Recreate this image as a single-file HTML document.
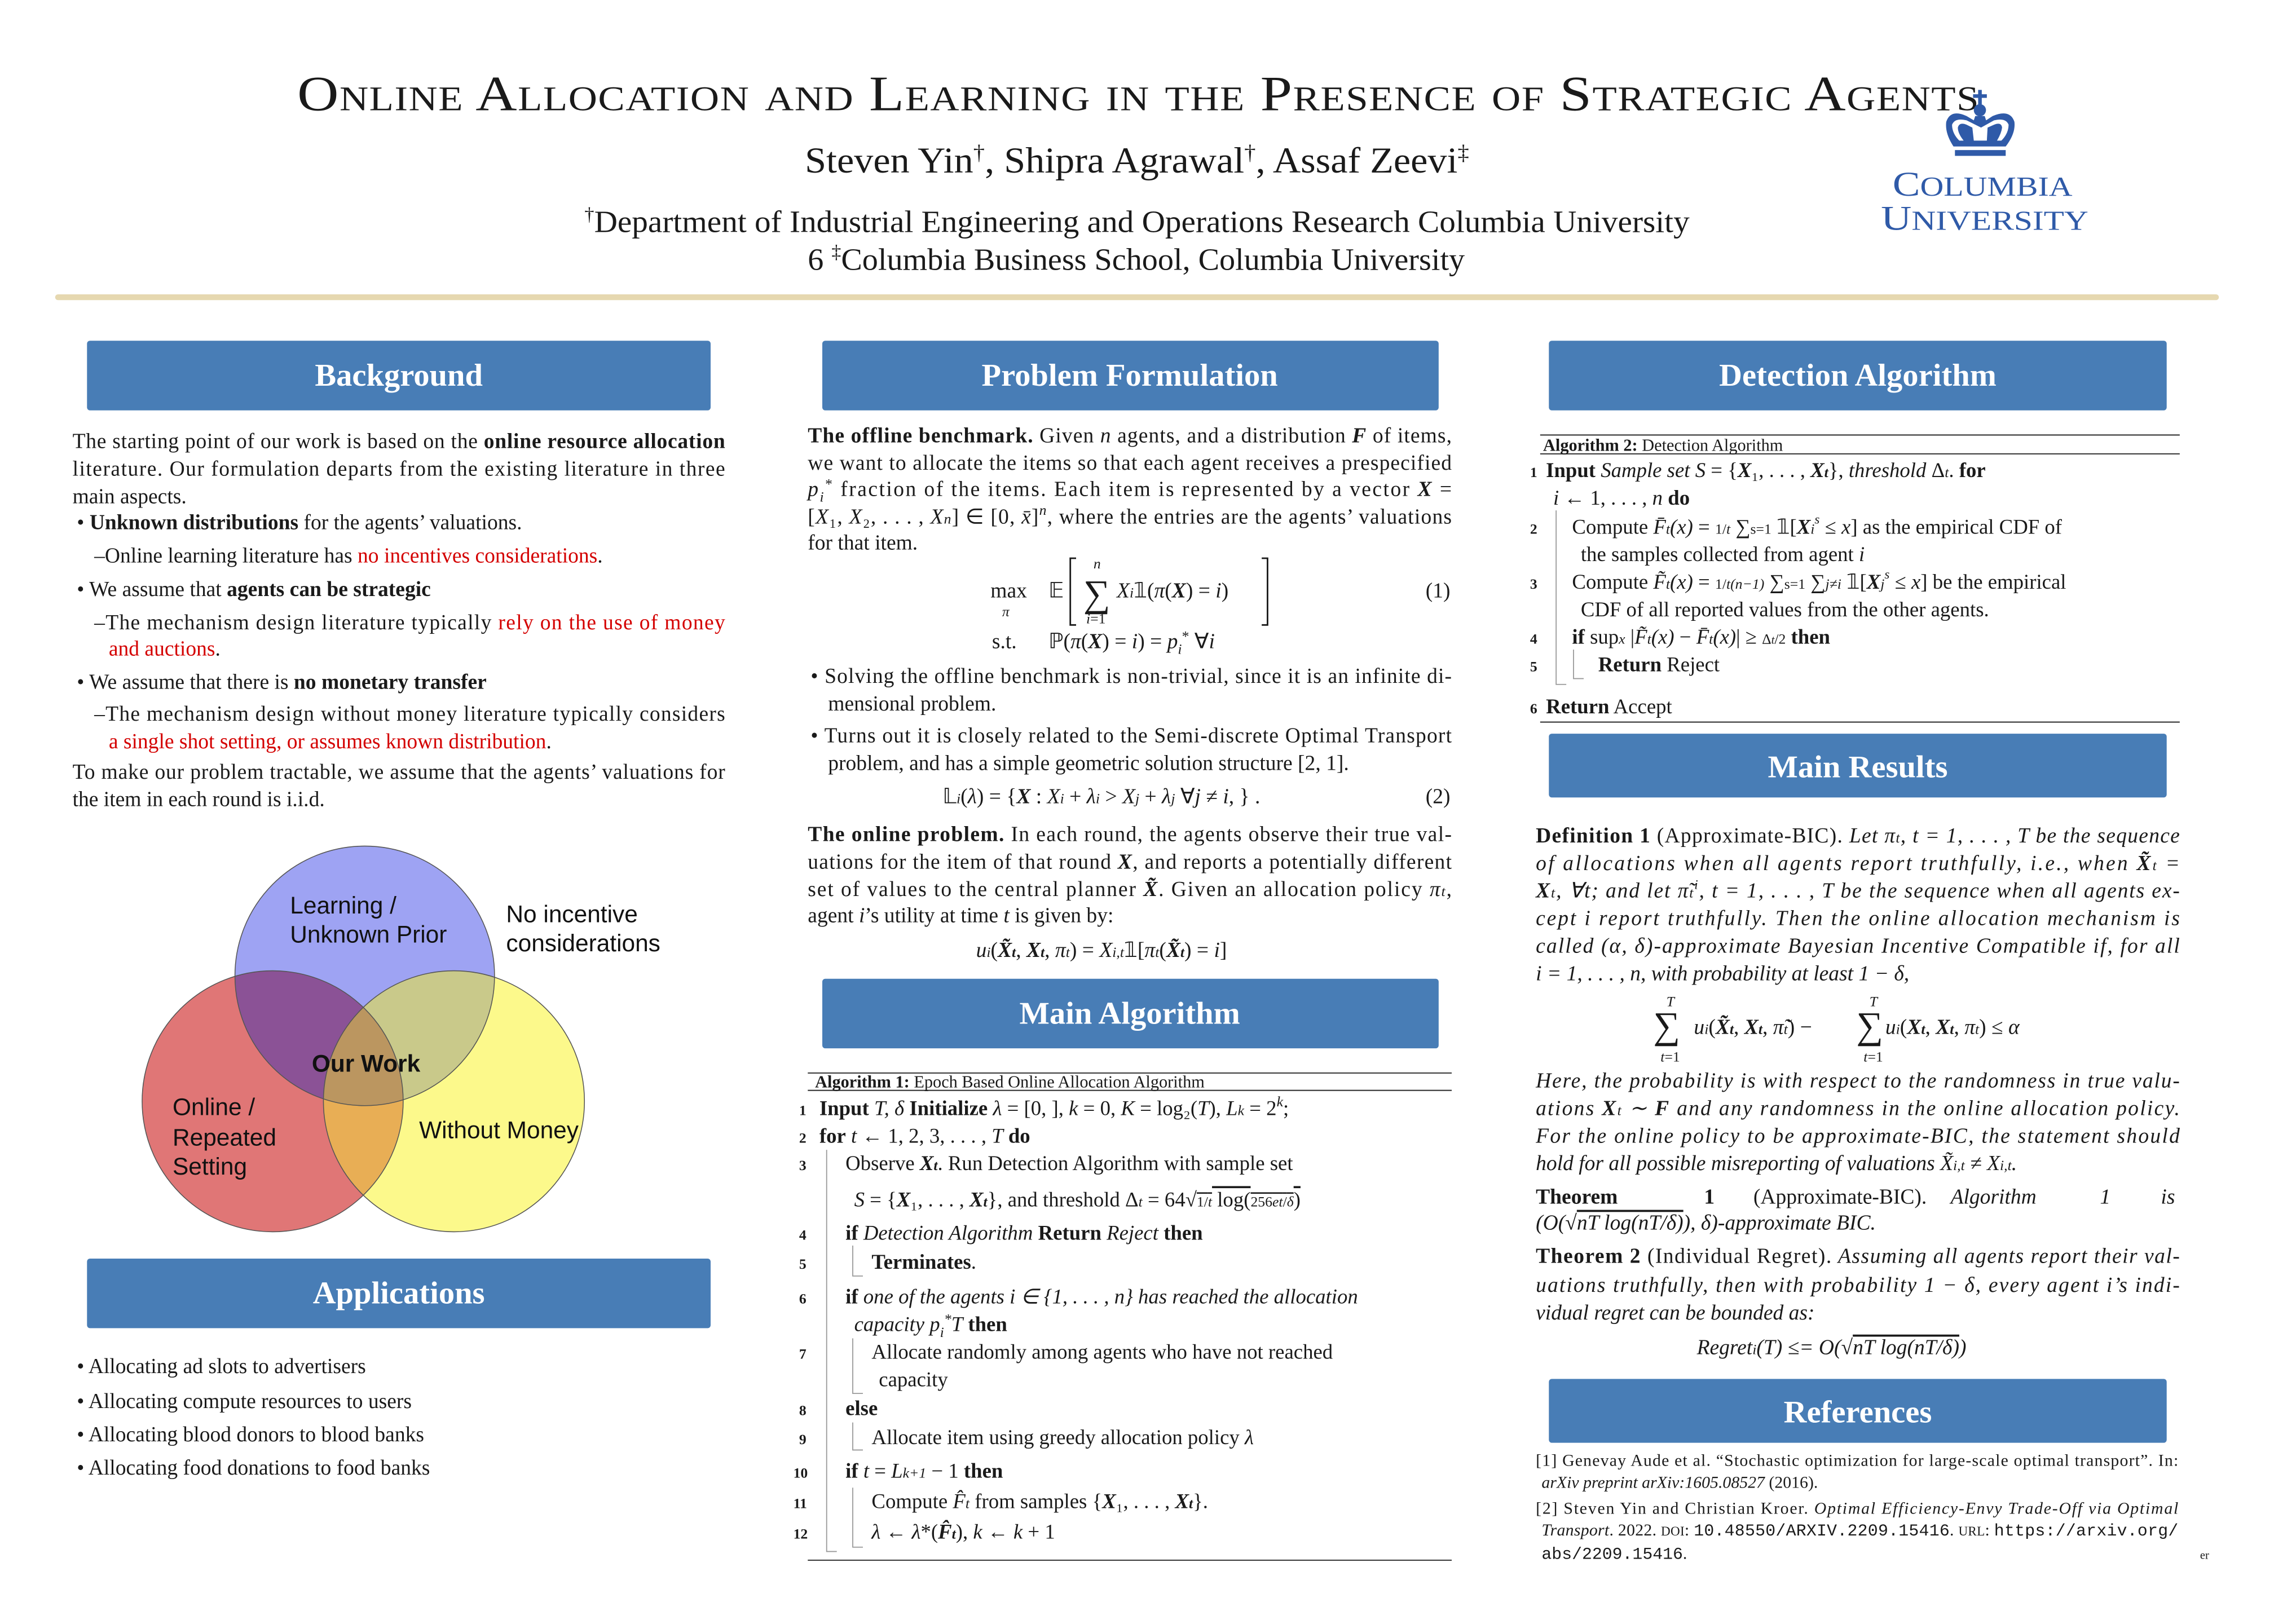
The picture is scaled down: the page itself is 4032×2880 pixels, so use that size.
<!DOCTYPE html>
<html><head><meta charset="utf-8"><style>
html,body{margin:0;padding:0;background:#fff;width:4032px;height:2880px;overflow:hidden}
svg{display:block}
text{font-family:"Liberation Serif",serif;fill:#1a1a1a}
.t{font-size:14.6px}
.b{font-weight:bold}
.i{font-style:italic}
.r{fill:#d40000}
.h{font-size:22px;fill:#fff;text-anchor:middle;font-weight:bold}
.s{font-family:"Liberation Sans",sans-serif;font-size:16.5px;fill:#111}
.n{font-size:10px;font-weight:bold}
.a{font-size:14.3px}
.ref{font-size:11.6px}
.m{font-family:"Liberation Mono",monospace}
</style></head><body>
<svg width="4032" height="2880" viewBox="0 0 1568 1120" xmlns="http://www.w3.org/2000/svg">
<defs>
<clipPath id="cR"><circle cx="188" cy="759.5" r="90"/></clipPath>
<clipPath id="cY"><circle cx="313" cy="759.5" r="90"/></clipPath>
<clipPath id="cB"><circle cx="251.5" cy="673" r="89.5"/></clipPath>
</defs>
<!-- Title -->
<text x="205" y="76" textLength="1160" lengthAdjust="spacingAndGlyphs" style="font-size:34px;font-variant:small-caps;letter-spacing:0.5px">Online Allocation and Learning in the Presence of Strategic Agents</text>
<text x="555" y="119" textLength="458" lengthAdjust="spacingAndGlyphs" style="font-size:25px">Steven Yin<tspan dy="-9" style="font-size:15px">†</tspan><tspan dy="9">, Shipra Agrawal</tspan><tspan dy="-9" style="font-size:15px">†</tspan><tspan dy="9">, Assaf Zeevi</tspan><tspan dy="-9" style="font-size:15px">‡</tspan></text>
<text x="403" y="160" textLength="762" lengthAdjust="spacingAndGlyphs" style="font-size:21.5px"><tspan dy="-8" style="font-size:13px">†</tspan><tspan dy="8">Department of Industrial Engineering and Operations Research Columbia University</tspan></text>
<text x="557" y="186" textLength="453" lengthAdjust="spacingAndGlyphs" style="font-size:21.5px">6 <tspan dy="-8" style="font-size:13px">‡</tspan><tspan dy="8">Columbia Business School, Columbia University</tspan></text>
<!-- Columbia logo -->
<g fill="#2f5aa8">
<rect x="1364" y="62" width="2.5" height="10"/><rect x="1360.5" y="65" width="9.5" height="2.5"/>
<circle cx="1365.2" cy="76" r="4.2"/>
<path d="M1342 84 Q1345 75 1356 80 L1361 83 L1362 80 L1368.5 80 L1369.5 83 L1374 80 Q1386 75 1389 84 Q1390 92 1383 101 L1347 101 Q1341 92 1342 84 Z M1346 86 Q1346 92 1351 97 L1354 97 Q1350 92 1350 88 Q1351 84 1356 86 L1360 88 L1361 97 L1370 97 L1370.5 88 L1375 86 Q1380 84 1380.5 88 Q1380 92 1377 97 L1380 97 Q1385 92 1385 86 Q1383 81 1375 83 L1366 88 L1356 83 Q1348 81 1346 86 Z" fill-rule="evenodd"/>
<rect x="1348" y="103.5" width="35" height="4"/>
</g>
<text x="1305" y="135" textLength="124" lengthAdjust="spacingAndGlyphs" style="font-size:24px;fill:#2f5aa8"><tspan>C</tspan><tspan style="font-size:19px">OLUMBIA</tspan></text>
<text x="1297" y="158.5" textLength="143" lengthAdjust="spacingAndGlyphs" style="font-size:24px;fill:#2f5aa8"><tspan>U</tspan><tspan style="font-size:19px">NIVERSITY</tspan></text>
<!-- gold rule -->
<rect x="38" y="203" width="1492" height="4" rx="2" fill="#e6d8b0"/>
<!-- headers -->
<g fill="#487db6">
<rect x="60" y="235" width="430" height="48" rx="2"/>
<rect x="567" y="235" width="425" height="48" rx="2"/>
<rect x="1068" y="235" width="426" height="48" rx="2"/>
<rect x="60" y="868" width="430" height="48" rx="2"/>
<rect x="567" y="675" width="425" height="48" rx="2"/>
<rect x="1068" y="506" width="426" height="44" rx="2"/>
<rect x="1068" y="951" width="426" height="44" rx="2"/>
</g>
<text class="h" x="275" y="266">Background</text>
<text class="h" x="779" y="266">Problem Formulation</text>
<text class="h" x="1281" y="266">Detection Algorithm</text>
<text class="h" x="275" y="899">Applications</text>
<text class="h" x="779" y="706">Main Algorithm</text>
<text class="h" x="1281" y="536">Main Results</text>
<text class="h" x="1281" y="981">References</text>

<!-- Background column -->
<text class="t" x="50" y="309" textLength="450">The starting point of our work is based on the <tspan class="b">online resource allocation</tspan></text>
<text class="t" x="50" y="328" textLength="450">literature.  Our formulation departs from the existing literature in three</text>
<text class="t" x="50" y="347">main aspects.</text>
<text class="t" x="53" y="365">• <tspan class="b">Unknown distributions</tspan> for the agents’ valuations.</text>
<text class="t" x="65" y="388">–Online learning literature has <tspan class="r">no incentives considerations</tspan>.</text>
<text class="t" x="53" y="411">• We assume that <tspan class="b">agents can be strategic</tspan></text>
<text class="t" x="65" y="434" textLength="435">–The mechanism design literature typically <tspan class="r">rely on the use of money</tspan></text>
<text class="t r" x="75" y="452">and auctions<tspan style="fill:#1a1a1a">.</tspan></text>
<text class="t" x="53" y="475">• We assume that there is <tspan class="b">no monetary transfer</tspan></text>
<text class="t" x="65" y="497" textLength="435">–The mechanism design without money literature typically considers</text>
<text class="t r" x="75" y="516">a single shot setting, or assumes known distribution<tspan style="fill:#1a1a1a">.</tspan></text>
<text class="t" x="50" y="537" textLength="450">To make our problem tractable, we assume that the agents’ valuations for</text>
<text class="t" x="50" y="556">the item in each round is i.i.d.</text>

<!-- Venn -->
<circle cx="188" cy="759.5" r="90" fill="#e07676"/>
<circle cx="313" cy="759.5" r="90" fill="#fcf98b"/>
<circle cx="251.5" cy="673" r="89.5" fill="#9ea3f3"/>
<g clip-path="url(#cR)"><circle cx="313" cy="759.5" r="90" fill="#e8ae55"/></g>
<g clip-path="url(#cR)"><circle cx="251.5" cy="673" r="89.5" fill="#8b5296"/></g>
<g clip-path="url(#cY)"><circle cx="251.5" cy="673" r="89.5" fill="#c9c98a"/></g>
<g clip-path="url(#cY)"><g clip-path="url(#cR)"><circle cx="251.5" cy="673" r="89.5" fill="#bb9660"/></g></g>
<g fill="none" stroke="#555" stroke-width="0.6">
<circle cx="188" cy="759.5" r="90"/><circle cx="313" cy="759.5" r="90"/><circle cx="251.5" cy="673" r="89.5"/>
</g>
<text class="s" x="200" y="630">Learning /</text>
<text class="s" x="200" y="650">Unknown Prior</text>
<text class="s" x="349" y="636">No incentive</text>
<text class="s" x="349" y="656">considerations</text>
<text class="s" x="215" y="739" style="font-weight:bold">Our Work</text>
<text class="s" x="119" y="769">Online /</text>
<text class="s" x="119" y="790">Repeated</text>
<text class="s" x="119" y="810">Setting</text>
<text class="s" x="289" y="785">Without Money</text>

<!-- Applications -->
<text class="t" x="53" y="947">• Allocating ad slots to advertisers</text>
<text class="t" x="53" y="971">• Allocating compute resources to users</text>
<text class="t" x="53" y="994">• Allocating blood donors to blood banks</text>
<text class="t" x="53" y="1017">• Allocating food donations to food banks</text>

<!-- Problem Formulation -->
<text class="t" x="557" y="305" textLength="444"><tspan class="b">The offline benchmark.</tspan> Given <tspan class="i">n</tspan> agents, and a distribution <tspan class="b i">F</tspan> of items,</text>
<text class="t" x="557" y="324" textLength="444">we want to allocate the items so that each agent receives a prespecified</text>
<text class="t" x="557" y="342" textLength="444"><tspan class="i">p</tspan><tspan class="i" dy="4" style="font-size:10px">i</tspan><tspan dy="-9" style="font-size:10px">*</tspan><tspan dy="5"> fraction of the items.  Each item is represented by a vector </tspan><tspan class="b i">X</tspan> =</text>
<text class="t" x="557" y="361" textLength="444">[<tspan class="i">X</tspan>₁, <tspan class="i">X</tspan>₂, . . . , <tspan class="i">X<tspan style="font-size:10px">n</tspan></tspan>] ∈ [0, <tspan class="i">x̄</tspan>]<tspan class="i" dy="-6" style="font-size:10px">n</tspan><tspan dy="6">, where the entries are the agents’ valuations</tspan></text>
<text class="t" x="557" y="379">for that item.</text>
<!-- eq 1 -->
<text class="t" x="683" y="412">max</text>
<text class="i" x="691" y="425" style="font-size:10px">π</text>
<text class="t" x="723" y="412">𝔼</text>
<path d="M742 385 h-4 v46 h4 M870 385 h4 v46 h-4" fill="none" stroke="#1a1a1a" stroke-width="1.1"/>
<text x="747" y="418" style="font-size:26px">∑</text>
<text class="i" x="754" y="392" style="font-size:10px">n</text>
<text x="749" y="430" style="font-size:10px"><tspan class="i">i</tspan>=1</text>
<text class="t" x="770" y="412"><tspan class="i">X<tspan style="font-size:10px">i</tspan></tspan>𝟙(<tspan class="i">π</tspan>(<tspan class="b i">X</tspan>) = <tspan class="i">i</tspan>)</text>
<text class="t" x="983" y="412">(1)</text>
<text class="t" x="684" y="447">s.t.</text>
<text class="t" x="723" y="447">ℙ(<tspan class="i">π</tspan>(<tspan class="b i">X</tspan>) = <tspan class="i">i</tspan>) = <tspan class="i">p</tspan><tspan class="i" dy="4" style="font-size:10px">i</tspan><tspan dy="-9" style="font-size:10px">*</tspan><tspan dy="5">   ∀</tspan><tspan class="i">i</tspan></text>
<text class="t" x="559" y="471" textLength="442">• Solving the offline benchmark is non-trivial, since it is an infinite di-</text>
<text class="t" x="571" y="490">mensional problem.</text>
<text class="t" x="559" y="512" textLength="442">• Turns out it is closely related to the Semi-discrete Optimal Transport</text>
<text class="t" x="571" y="531">problem, and has a simple geometric solution structure [2, 1].</text>
<text class="t" x="650" y="554">𝕃<tspan class="i" style="font-size:10px">i</tspan>(<tspan class="i">λ</tspan>) = {<tspan class="b i">X</tspan> : <tspan class="i">X<tspan style="font-size:10px">i</tspan></tspan> + <tspan class="i">λ<tspan style="font-size:10px">i</tspan></tspan> &gt; <tspan class="i">X<tspan style="font-size:10px">j</tspan></tspan> + <tspan class="i">λ<tspan style="font-size:10px">j</tspan></tspan> ∀<tspan class="i">j</tspan> ≠ <tspan class="i">i</tspan>, } .</text>
<text class="t" x="983" y="554">(2)</text>
<text class="t" x="557" y="580" textLength="444"><tspan class="b">The online problem.</tspan> In each round, the agents observe their true val-</text>
<text class="t" x="557" y="599" textLength="444">uations for the item of that round <tspan class="b i">X</tspan>, and reports a potentially different</text>
<text class="t" x="557" y="618" textLength="444">set of values to the central planner <tspan class="b i">X̃</tspan>.  Given an allocation policy <tspan class="i">π<tspan style="font-size:10px">t</tspan></tspan>,</text>
<text class="t" x="557" y="636">agent <tspan class="i">i</tspan>’s utility at time <tspan class="i">t</tspan> is given by:</text>
<text class="t" x="673" y="660"><tspan class="i">u<tspan style="font-size:10px">i</tspan></tspan>(<tspan class="b i">X̃<tspan style="font-size:10px">t</tspan></tspan>, <tspan class="b i">X<tspan style="font-size:10px">t</tspan></tspan>, <tspan class="i">π<tspan style="font-size:10px">t</tspan></tspan>) = <tspan class="i">X<tspan style="font-size:10px">i,t</tspan></tspan>𝟙[<tspan class="i">π<tspan style="font-size:10px">t</tspan></tspan>(<tspan class="b i">X̃<tspan style="font-size:10px">t</tspan></tspan>) = <tspan class="i">i</tspan>]</text>

<!-- Algorithm 1 -->
<g stroke="#333" stroke-width="0.8" fill="none">
<line x1="557" y1="740" x2="1001" y2="740"/><line x1="557" y1="752" x2="1001" y2="752"/>
<line x1="557" y1="1076" x2="1001" y2="1076"/>
</g>
<g stroke="#999" stroke-width="0.7" fill="none">
<path d="M570 793 V1070 H577"/>
<path d="M588 859 V880 H595"/>
<path d="M588 923 V961 H595"/>
<path d="M588 981 V1000 H595"/>
<path d="M588 1026 V1067 H595"/>
</g>
<text x="562" y="750" style="font-size:11.8px"><tspan class="b">Algorithm 1:</tspan> Epoch Based Online Allocation Algorithm</text>
<text class="n" x="551" y="769">1</text><text class="a" x="565" y="769"><tspan class="b">Input</tspan> <tspan class="i">T, δ</tspan> <tspan class="b">Initialize</tspan> <tspan class="i">λ</tspan> = [0, ], <tspan class="i">k</tspan> = 0, <tspan class="i">K</tspan> = log₂(<tspan class="i">T</tspan>), <tspan class="i">L<tspan style="font-size:10px">k</tspan></tspan> = 2<tspan class="i" dy="-6" style="font-size:10px">k</tspan><tspan dy="6">;</tspan></text>
<text class="n" x="551" y="788">2</text><text class="a" x="565" y="788"><tspan class="b">for</tspan> <tspan class="i">t</tspan> ← 1, 2, 3, . . . , <tspan class="i">T</tspan> <tspan class="b">do</tspan></text>
<text class="n" x="551" y="807">3</text><text class="a" x="583" y="807">Observe <tspan class="b i">X<tspan style="font-size:10px">t</tspan></tspan>. Run Detection Algorithm with sample set</text>
<text class="a" x="589" y="832"><tspan class="i">S</tspan> = {<tspan class="b i">X</tspan>₁, . . . , <tspan class="b i">X<tspan style="font-size:10px">t</tspan></tspan>}, and threshold Δ<tspan class="i" style="font-size:10px">t</tspan> = 64√<tspan style="text-decoration:overline"><tspan style="font-size:10px">1/</tspan><tspan class="i" style="font-size:10px">t</tspan> log(<tspan style="font-size:10px">256</tspan><tspan class="i" style="font-size:10px">et</tspan><tspan style="font-size:10px">/</tspan><tspan class="i" style="font-size:10px">δ</tspan>)</tspan></text>
<text class="n" x="551" y="855">4</text><text class="a" x="583" y="855"><tspan class="b">if</tspan> <tspan class="i">Detection Algorithm</tspan> <tspan class="b">Return</tspan> <tspan class="i">Reject</tspan> <tspan class="b">then</tspan></text>
<text class="n" x="551" y="875">5</text><text class="a" x="601" y="875"><tspan class="b">Terminates</tspan>.</text>
<text class="n" x="551" y="899">6</text><text class="a i" x="583" y="899"><tspan class="b" style="font-style:normal">if</tspan> one of the agents i ∈ {1, . . . , n} has reached the allocation</text>
<text class="a i" x="589" y="918">capacity p<tspan dy="4" style="font-size:10px">i</tspan><tspan dy="-9" style="font-size:10px">*</tspan><tspan dy="5">T</tspan> <tspan class="b" style="font-style:normal">then</tspan></text>
<text class="n" x="551" y="937">7</text><text class="a" x="601" y="937">Allocate randomly among agents who have not reached</text>
<text class="a" x="606" y="956">capacity</text>
<text class="n" x="551" y="976">8</text><text class="a b" x="583" y="976">else</text>
<text class="n" x="551" y="996">9</text><text class="a" x="601" y="996">Allocate item using greedy allocation policy <tspan class="i">λ</tspan></text>
<text class="n" x="547" y="1019">10</text><text class="a" x="583" y="1019"><tspan class="b">if</tspan> <tspan class="i">t</tspan> = <tspan class="i">L<tspan style="font-size:10px">k+1</tspan></tspan> − 1 <tspan class="b">then</tspan></text>
<text class="n" x="547" y="1040">11</text><text class="a" x="601" y="1040">Compute <tspan class="i">F̂<tspan style="font-size:10px">t</tspan></tspan> from samples {<tspan class="b i">X</tspan>₁, . . . , <tspan class="b i">X<tspan style="font-size:10px">t</tspan></tspan>}.</text>
<text class="n" x="547" y="1061">12</text><text class="a" x="601" y="1061"><tspan class="i">λ</tspan> ← <tspan class="i">λ</tspan>*(<tspan class="b i">F̂<tspan style="font-size:10px">t</tspan></tspan>), <tspan class="i">k</tspan> ← <tspan class="i">k</tspan> + 1</text>

<!-- Algorithm 2 -->
<g stroke="#333" stroke-width="0.8" fill="none">
<line x1="1062" y1="300" x2="1503" y2="300"/><line x1="1062" y1="313" x2="1503" y2="313"/>
<line x1="1062" y1="498" x2="1503" y2="498"/>
</g>
<g stroke="#999" stroke-width="0.7" fill="none">
<path d="M1073 352 V472 H1080"/>
<path d="M1085 448 V468 H1092"/>
</g>
<text x="1064" y="311" style="font-size:11.8px"><tspan class="b">Algorithm 2:</tspan> Detection Algorithm</text>
<text class="n" x="1055" y="329">1</text><text class="a" x="1066" y="329"><tspan class="b">Input</tspan> <tspan class="i">Sample set S</tspan> = {<tspan class="b i">X</tspan>₁, . . . , <tspan class="b i">X<tspan style="font-size:10px">t</tspan></tspan>}, <tspan class="i">threshold</tspan> Δ<tspan class="i" style="font-size:10px">t</tspan>. <tspan class="b">for</tspan></text>
<text class="a" x="1071" y="348"><tspan class="i">i</tspan> ← 1, . . . , <tspan class="i">n</tspan> <tspan class="b">do</tspan></text>
<text class="n" x="1055" y="368">2</text><text class="a" x="1084" y="368">Compute <tspan class="i">F̄<tspan style="font-size:10px">t</tspan>(x)</tspan> = <tspan style="font-size:10px">1/</tspan><tspan class="i" style="font-size:10px">t</tspan> ∑<tspan style="font-size:10px">s=1</tspan> 𝟙[<tspan class="b i">X</tspan><tspan class="i" style="font-size:10px">i</tspan><tspan class="i" dy="-7" style="font-size:9px">s</tspan><tspan dy="7"> ≤ </tspan><tspan class="i">x</tspan>] as the empirical CDF of</text>
<text class="a" x="1090" y="387">the samples collected from agent <tspan class="i">i</tspan></text>
<text class="n" x="1055" y="406">3</text><text class="a" x="1084" y="406">Compute <tspan class="i">F̃<tspan style="font-size:10px">t</tspan>(x)</tspan> = <tspan style="font-size:10px">1/</tspan><tspan class="i" style="font-size:10px">t(n−1)</tspan> ∑<tspan style="font-size:10px">s=1</tspan> ∑<tspan class="i" style="font-size:10px">j≠i</tspan> 𝟙[<tspan class="b i">X</tspan><tspan class="i" style="font-size:10px">j</tspan><tspan class="i" dy="-7" style="font-size:9px">s</tspan><tspan dy="7"> ≤ </tspan><tspan class="i">x</tspan>] be the empirical</text>
<text class="a" x="1090" y="425">CDF of all reported values from the other agents.</text>
<text class="n" x="1055" y="444">4</text><text class="a" x="1084" y="444"><tspan class="b">if</tspan> sup<tspan class="i" style="font-size:10px">x</tspan> |<tspan class="i">F̃<tspan style="font-size:10px">t</tspan>(x)</tspan> − <tspan class="i">F̄<tspan style="font-size:10px">t</tspan>(x)</tspan>| ≥ <tspan style="font-size:10px">Δ</tspan><tspan class="i" style="font-size:8px">t</tspan><tspan style="font-size:10px">/2</tspan> <tspan class="b">then</tspan></text>
<text class="n" x="1055" y="463">5</text><text class="a" x="1102" y="463"><tspan class="b">Return</tspan> Reject</text>
<text class="n" x="1055" y="492">6</text><text class="a" x="1066" y="492"><tspan class="b">Return</tspan> Accept</text>

<!-- Main results -->
<text class="t i" x="1059" y="581" textLength="444"><tspan class="b" style="font-style:normal">Definition 1</tspan><tspan style="font-style:normal"> (Approximate-BIC).</tspan> Let π<tspan style="font-size:10px">t</tspan>, t = 1, . . . , T be the sequence</text>
<text class="t i" x="1059" y="600" textLength="444">of allocations when all agents report truthfully, i.e., when <tspan class="b">X̃</tspan><tspan style="font-size:10px">t</tspan> =</text>
<text class="t i" x="1059" y="619" textLength="444"><tspan class="b">X</tspan><tspan style="font-size:10px">t</tspan>, ∀t; and let π̃<tspan style="font-size:10px">t</tspan><tspan dy="-6" style="font-size:9px">i</tspan><tspan dy="6">, t = 1, . . . , T be the sequence when all agents ex-</tspan></text>
<text class="t i" x="1059" y="638" textLength="444">cept i report truthfully.  Then the online allocation mechanism is</text>
<text class="t i" x="1059" y="657" textLength="444">called (α, δ)-approximate Bayesian Incentive Compatible if, for all</text>
<text class="t i" x="1059" y="676">i = 1, . . . , n, with probability at least 1 − δ,</text>
<text x="1140" y="716" style="font-size:26px">∑</text><text class="i" x="1149" y="694" style="font-size:10px">T</text><text x="1145" y="732" style="font-size:10px"><tspan class="i">t</tspan>=1</text>
<text class="t" x="1168" y="713"><tspan class="i">u<tspan style="font-size:10px">i</tspan></tspan>(<tspan class="b i">X̃<tspan style="font-size:10px">t</tspan></tspan>, <tspan class="b i">X<tspan style="font-size:10px">t</tspan></tspan>, <tspan class="i">π̃<tspan style="font-size:10px">t</tspan></tspan>) −</text>
<text x="1280" y="716" style="font-size:26px">∑</text><text class="i" x="1289" y="694" style="font-size:10px">T</text><text x="1285" y="732" style="font-size:10px"><tspan class="i">t</tspan>=1</text>
<text class="t" x="1300" y="713"><tspan class="i">u<tspan style="font-size:10px">i</tspan></tspan>(<tspan class="b i">X<tspan style="font-size:10px">t</tspan></tspan>, <tspan class="b i">X<tspan style="font-size:10px">t</tspan></tspan>, <tspan class="i">π<tspan style="font-size:10px">t</tspan></tspan>) ≤ <tspan class="i">α</tspan></text>
<text class="t i" x="1059" y="750" textLength="444">Here, the probability is with respect to the randomness in true valu-</text>
<text class="t i" x="1059" y="769" textLength="444">ations <tspan class="b">X</tspan><tspan style="font-size:10px">t</tspan> ∼ <tspan class="b">F</tspan> and any randomness in the online allocation policy.</text>
<text class="t i" x="1059" y="788" textLength="444">For the online policy to be approximate-BIC, the statement should</text>
<text class="t i" x="1059" y="807">hold for all possible misreporting of valuations X̃<tspan style="font-size:10px">i,t</tspan> ≠ X<tspan style="font-size:10px">i,t</tspan>.</text>
<text class="t" x="1059" y="830"><tspan class="b">Theorem</tspan></text><text class="t b" x="1175" y="830">1</text>
<text class="t" x="1209" y="830">(Approximate-BIC).</text><text class="t i" x="1345" y="830">Algorithm</text><text class="t i" x="1448" y="830">1</text><text class="t i" x="1490" y="830">is</text>
<text class="t i" x="1059" y="848">(O(√<tspan style="text-decoration:overline">nT log(nT/δ)</tspan>), δ)-approximate BIC.</text>
<text class="t i" x="1059" y="871" textLength="444"><tspan class="b" style="font-style:normal">Theorem 2</tspan><tspan style="font-style:normal"> (Individual Regret).</tspan> Assuming all agents report their val-</text>
<text class="t i" x="1059" y="891" textLength="444">uations truthfully, then with probability 1 − δ, every agent i’s indi-</text>
<text class="t i" x="1059" y="910">vidual regret can be bounded as:</text>
<text class="t i" x="1170" y="934">Regret<tspan style="font-size:10px">i</tspan>(T) ≤= O(√<tspan style="text-decoration:overline">nT log(nT/δ)</tspan>)</text>

<!-- References -->
<text class="ref" x="1059" y="1011" textLength="443">[1] Genevay Aude et al. “Stochastic optimization for large-scale optimal transport”. In:</text>
<text class="ref" x="1063" y="1026"><tspan class="i">arXiv preprint arXiv:1605.08527</tspan> (2016).</text>
<text class="ref" x="1059" y="1044" textLength="443">[2] Steven Yin and Christian Kroer. <tspan class="i">Optimal Efficiency-Envy Trade-Off via Optimal</tspan></text>
<text class="ref" x="1063" y="1059" textLength="439"><tspan class="i">Transport</tspan>. 2022. <tspan style="font-size:9px">DOI</tspan>: <tspan class="m">10.48550/ARXIV.2209.15416</tspan>. <tspan style="font-size:9px">URL</tspan>: <tspan class="m">https://arxiv.org/</tspan></text>
<text class="ref m" x="1063" y="1075">abs/2209.15416<tspan style="font-family:'Liberation Serif',serif">.</tspan></text>
<text x="1517" y="1075" style="font-size:8px">er</text>
</svg>
</body></html>
